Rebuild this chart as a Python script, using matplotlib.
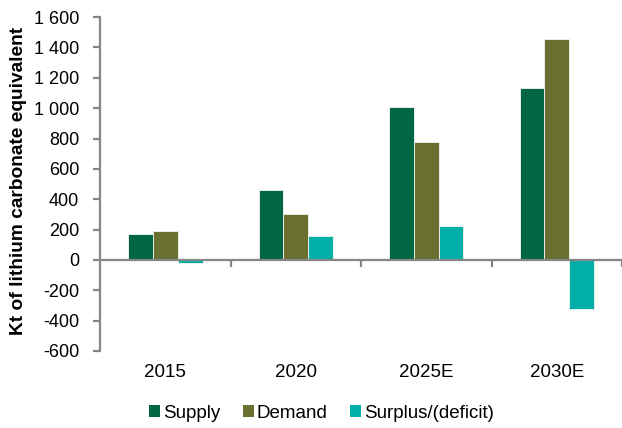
import numpy as np
import matplotlib
matplotlib.use("Agg")
import matplotlib.pyplot as plt
from matplotlib.patches import Patch
from matplotlib.ticker import FuncFormatter
from matplotlib.transforms import blended_transform_factory

plt.rcParams["font.family"] = ["Liberation Sans", "DejaVu Sans"]

# Lithium market balance, kt LCE
years = ["2015", "2020", "2025E", "2030E"]
supply = [172, 459, 1005, 1133]
demand = [189, 304, 776, 1459]
surplus = [-20, 156, 226, -326]

series = ["Supply", "Demand", "Surplus/(deficit)"]
colors = ["#006644", "#6B7030", "#00B0A8"]
grey = "#868686"

fig = plt.figure(figsize=(6.22, 4.28), dpi=100)
ax = fig.add_axes([0.161, 0.180, 0.839, 0.780])

x = np.arange(len(years))
w = 0.19
for k, vals in enumerate([supply, demand, surplus]):
    ax.bar(x + (k - 1) * w, vals, width=w, color=colors[k],
           edgecolor="#e6efe8", linewidth=0.7, zorder=2)

ax.set_xlim(-0.5, 3.5)
ax.set_ylim(-600, 1600)
ax.set_yticks(np.arange(-600, 1601, 200))
ax.yaxis.set_major_formatter(FuncFormatter(lambda v, p: f"{int(v):,}".replace(",", " ")))

for s in ["top", "right"]:
    ax.spines[s].set_visible(False)
ax.spines["left"].set_color(grey)
ax.spines["left"].set_linewidth(1.6)
ax.spines["bottom"].set_position(("data", 0))
ax.spines["bottom"].set_color(grey)
ax.spines["bottom"].set_linewidth(1.6)
ax.spines["bottom"].set_zorder(3)

ax.set_xticks([0.5, 1.5, 2.5, 3.5])
ax.set_xticklabels([])
ax.tick_params(axis="x", direction="out", length=5, width=1.6, color=grey)
ax.tick_params(axis="y", direction="out", length=5, width=1.6, color=grey,
               labelsize=13, pad=10)

trans = blended_transform_factory(ax.transData, ax.transAxes)
for i, lab in enumerate(years):
    ax.text(i, -0.065, lab, transform=trans, ha="center", va="center", fontsize=13.5)

fig.text(18.5 / 622, 0.577, "Kt of lithium carbonate equivalent", rotation=90,
         ha="center", va="center", fontsize=13.8, fontweight="bold")

handles = [Patch(facecolor=c, edgecolor="none") for c in colors]
fig.legend(handles, series, loc="center", bbox_to_anchor=(0.517, 0.035), ncol=3,
           frameon=False, fontsize=13.5, handlelength=0.6, handleheight=0.6,
           handletextpad=0.15, columnspacing=1.2)

fig.savefig("out.png", dpi=100)
